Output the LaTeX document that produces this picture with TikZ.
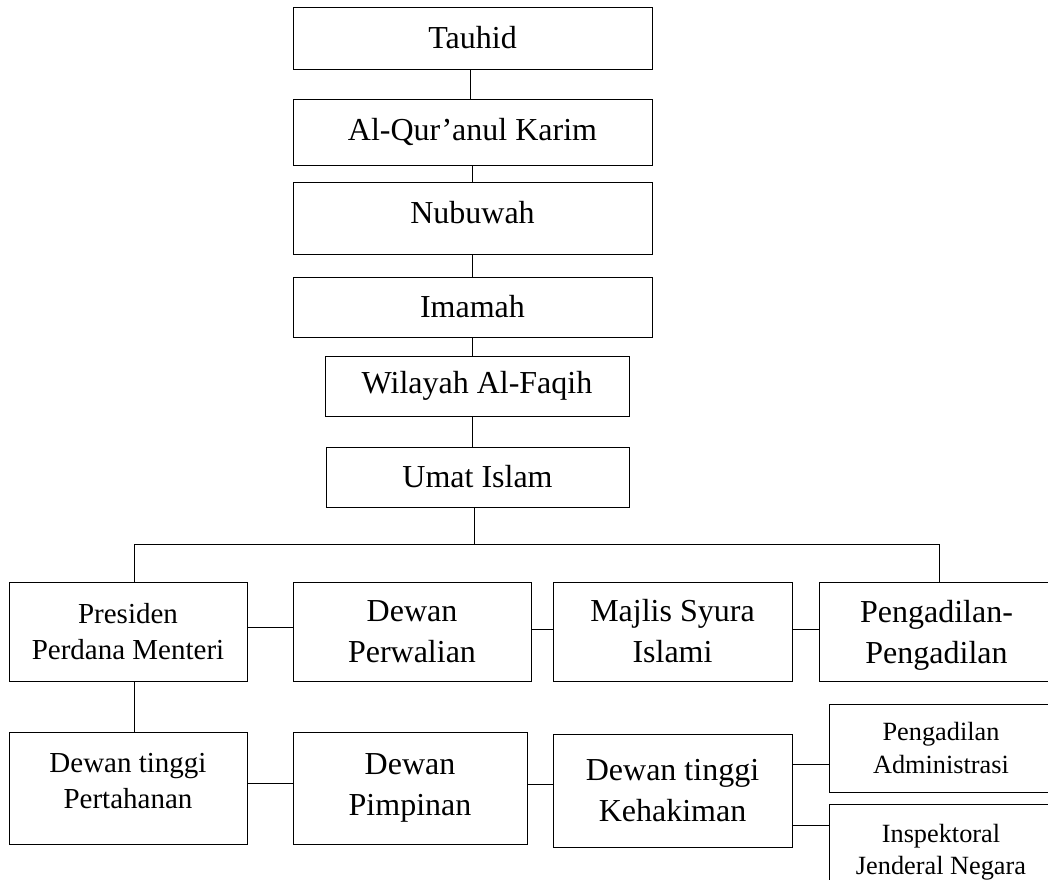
\documentclass[tikz,border=0pt]{standalone}
\usepackage{fontspec}
\setmainfont{Liberation Serif}
\usepackage{tikz}
\usetikzlibrary{calc}
\tikzstyle{block} = [draw,rectangle,line width=1pt,inner sep=0pt,align=center,
                     font=\fontsize{32}{41}\selectfont]
\tikzstyle{midblock} = [block,font=\fontsize{29}{35.5}\selectfont]
\tikzstyle{smallblock} = [block,font=\fontsize{26.3}{32.5}\selectfont]
\tikzstyle{line} = [line width=1pt]

\begin{document}
\begin{tikzpicture}[x=1pt, y=-1pt]
    \clip (0,0) rectangle (1048,879);
    % top chain
    \node[block, minimum width=359pt, minimum height=62pt] (tauhid) at (472.5,38) {Tauhid};
    \node[block, minimum width=359pt, minimum height=66pt] (quran) at (472.5,132) {Al-Qur’anul Karim};
    \node[block, minimum width=359pt, minimum height=72pt, text depth=12pt] (nubuwah) at (472.5,218) {Nubuwah};
    \node[block, minimum width=359pt, minimum height=60pt] (imamah) at (472.5,307) {Imamah};
    \node[block, minimum width=304pt, minimum height=60pt] (wilayah) at (477,386) {Wilayah Al-Faqih};
    \node[block, minimum width=303pt, minimum height=60pt] (umat) at (477.5,477) {Umat Islam};

    % second row
    \node[midblock, minimum width=238pt, minimum height=99pt] (presiden) at (128,631.5) {Presiden\\Perdana Menteri};
    \node[block, minimum width=238pt, minimum height=99pt] (perwalian) at (412,631.5) {Dewan\\Perwalian};
    \node[block, minimum width=239pt, minimum height=99pt] (majlis) at (672.5,631.5) {Majlis Syura\\Islami};
    \node[block, minimum width=235pt, minimum height=99pt, text depth=0pt] (pengadilan) at (936.5,631.5) {Pengadilan-\\Pengadilan};

    % third row
    \node[midblock, minimum width=238pt, minimum height=112pt, text depth=14pt] (pertahanan) at (128,788) {Dewan tinggi\\Pertahanan};
    \node[block, minimum width=234pt, minimum height=112pt] (pimpinan) at (410,788) {Dewan\\Pimpinan};
    \node[block, minimum width=239pt, minimum height=113pt] (kehakiman) at (672.5,790.5) {Dewan tinggi\\Kehakiman};
    \node[smallblock, minimum width=224pt, minimum height=88pt] (administrasi) at (941,748) {Pengadilan\\Administrasi};
    \node[smallblock, minimum width=224pt, minimum height=96pt] (inspektoral) at (941,852) {Inspektoral\\Jenderal Negara};

    \coordinate (bus) at (474,544);

    % now link the nodes
    \draw [line] ([xshift=-2.5pt]tauhid.south) -- ([xshift=-2.5pt]quran.north);
    \draw [line] (quran) -- (nubuwah);
    \draw [line] (nubuwah) -- (imamah);
    \draw [line] (imamah) -- (imamah |- wilayah.north);
    \draw [line] (imamah |- wilayah.south) -- (imamah |- umat.north);
    \draw [line] (bus |- umat.south) -- (bus);
    \draw [line] ([xshift=6pt]presiden.north) |- (bus) -| ([xshift=3pt]pengadilan.north);
    \draw [line] ([xshift=6pt]presiden.south) -- ([xshift=6pt]pertahanan.north);

    \draw [line] ([yshift=4pt]presiden.east) -- ([yshift=4pt]perwalian.west);
    \draw [line] ([yshift=2.5pt]perwalian.east) -- ([yshift=2.5pt]majlis.west);
    \draw [line] ([yshift=2.5pt]majlis.east) -- ([yshift=2.5pt]pengadilan.west);

    \draw [line] ([yshift=5pt]pertahanan.east) -- ([yshift=5pt]pimpinan.west);
    \draw [line] ([yshift=4pt]pimpinan.east) -- ([yshift=4pt]pimpinan.east -| kehakiman.west);
    \draw [line] ([yshift=-16pt]administrasi.west) -- ([yshift=-16pt]administrasi.west -| kehakiman.east);
    \draw [line] ([yshift=27pt]inspektoral.west) -- ([yshift=27pt]inspektoral.west -| kehakiman.east);
\end{tikzpicture}
\end{document}
